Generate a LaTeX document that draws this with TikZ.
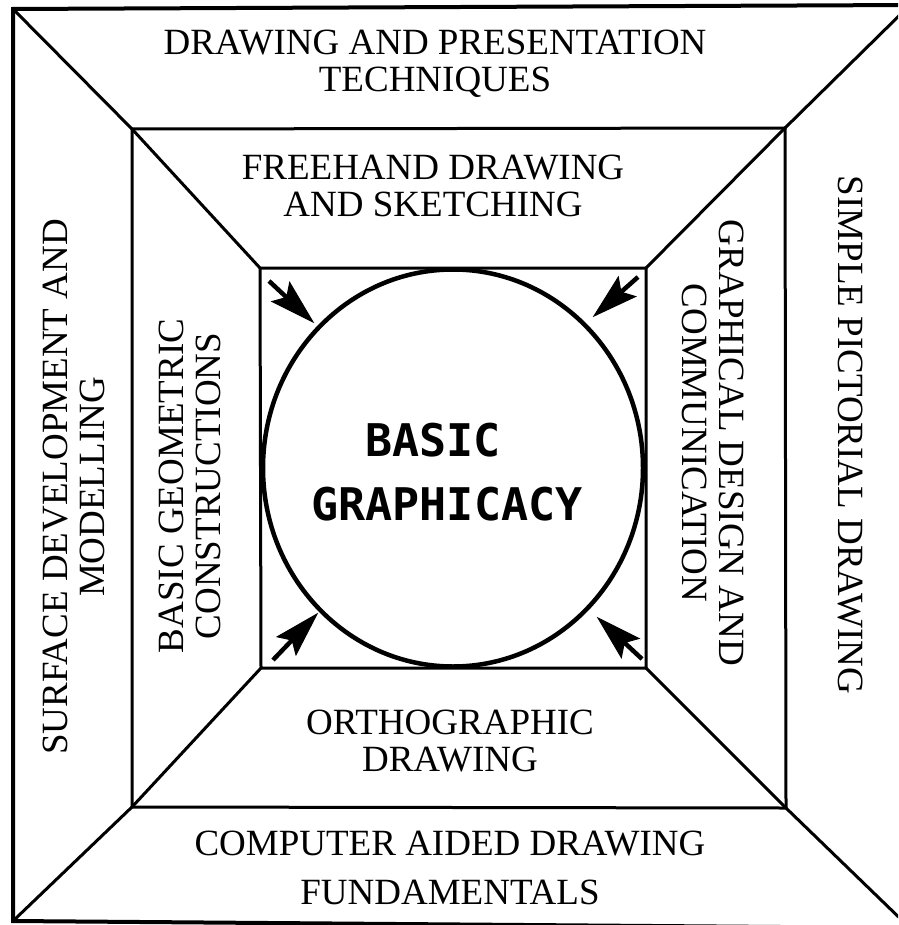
\documentclass[tikz,border=0pt]{standalone}
\usepackage{fontspec}
\setmainfont{Liberation Serif}
\newfontfamily\bgfont{DejaVu Sans Mono}
\usetikzlibrary{calc,shapes.geometric}
\tikzset{
  outerline/.style={line width=4pt},
  frameline/.style={line width=3pt},
  lbl/.style={font=\fontsize{37}{37}\selectfont, align=center, inner sep=0pt},
  core/.style={font=\bgfont\bfseries\fontsize{45}{50}\selectfont, inner sep=0pt},
  shaft/.style={line width=4.5pt},
  headfill/.style={fill=black, draw=black, line width=1pt, line join=miter}
}
\newcommand{\myhead}[2]{%
  \coordinate (hb) at ($(#2)!44pt!(#1)$);
  \draw[shaft] (#1) -- ($(#2)!34pt!(#1)$);
  \filldraw[headfill] (#2) -- ($(hb)!13pt!90:(#2)$) -- ($(#2)!36pt!(#1)$) -- ($(hb)!13pt!-90:(#2)$) -- cycle;
}
\begin{document}
\begin{tikzpicture}[x=1pt,y=-1pt]
\useasboundingbox (0,0) rectangle (898,925);
\begin{scope}
\clip (0,0) rectangle (898,925);
% corners
\coordinate (O1) at (13,9);
\coordinate (O2) at (910,5);
\coordinate (O3) at (910,928);
\coordinate (O4) at (13,921);
\coordinate (M1) at (132,129);
\coordinate (M2) at (785,128);
\coordinate (M3) at (786,808);
\coordinate (M4) at (132,807);
\coordinate (I1) at (260,268);
\coordinate (I2) at (646,268);
\coordinate (I3) at (646,668);
\coordinate (I4) at (261,668);
\draw[outerline] (O1) -- (O2) -- (O3) -- (O4) -- cycle;
\draw[frameline] (M1) -- (M2) -- (M3) -- (M4) -- cycle;
\draw[frameline] (I1) -- (I2) -- (I3) -- (I4) -- cycle;
\draw[frameline] (O1) -- (M1) -- (I1);
\draw[frameline] (O2) -- (M2) -- (I2);
\draw[frameline] (O3) -- (M3) -- (I3);
\draw[frameline] (O4) -- (M4) -- (I4);
\end{scope}
% circle
\node[draw, line width=4.5pt, ellipse, minimum width=380pt, minimum height=397pt, inner sep=0pt] (circ) at (453,468) {};
% text
\node[lbl] (t1) at (435,64) {DRAWING AND PRESENTATION\\TECHNIQUES};
\node[lbl] (t2) at (433,186) {FREEHAND DRAWING\\AND SKETCHING};
\node[lbl] (t3) at (450,741) {ORTHOGRAPHIC\\DRAWING};
\node[lbl, font=\fontsize{37}{49}\selectfont] (t4) at (450,868) {COMPUTER AIDED DRAWING\\FUNDAMENTALS};
\node[lbl, rotate=90] (l1) at (74,487) {SURFACE DEVELOPMENT AND\\MODELLING};
\node[lbl, rotate=90] (l2) at (190,486) {BASIC GEOMETRIC\\CONSTRUCTIONS};
\node[lbl, rotate=-90] (r1) at (713,443) {GRAPHICAL DESIGN AND\\COMMUNICATION};
\node[lbl, rotate=-90] (r2) at (850,435) {SIMPLE PICTORIAL DRAWING};
\node[core] (c1) at (433,440) {BASIC};
\node[core] (c2) at (447,504) {GRAPHICACY};
% arrows
\coordinate (a1s) at (269,281); \coordinate (a1e) at (313,322);
\coordinate (a2s) at (638,277); \coordinate (a2e) at (594,316);
\coordinate (a3s) at (273,660); \coordinate (a3e) at (317,614);
\coordinate (a4s) at (642,659); \coordinate (a4e) at (598,618);
\myhead{a1s}{a1e}
\myhead{a2s}{a2e}
\myhead{a3s}{a3e}
\myhead{a4s}{a4e}
\end{tikzpicture}
\end{document}
